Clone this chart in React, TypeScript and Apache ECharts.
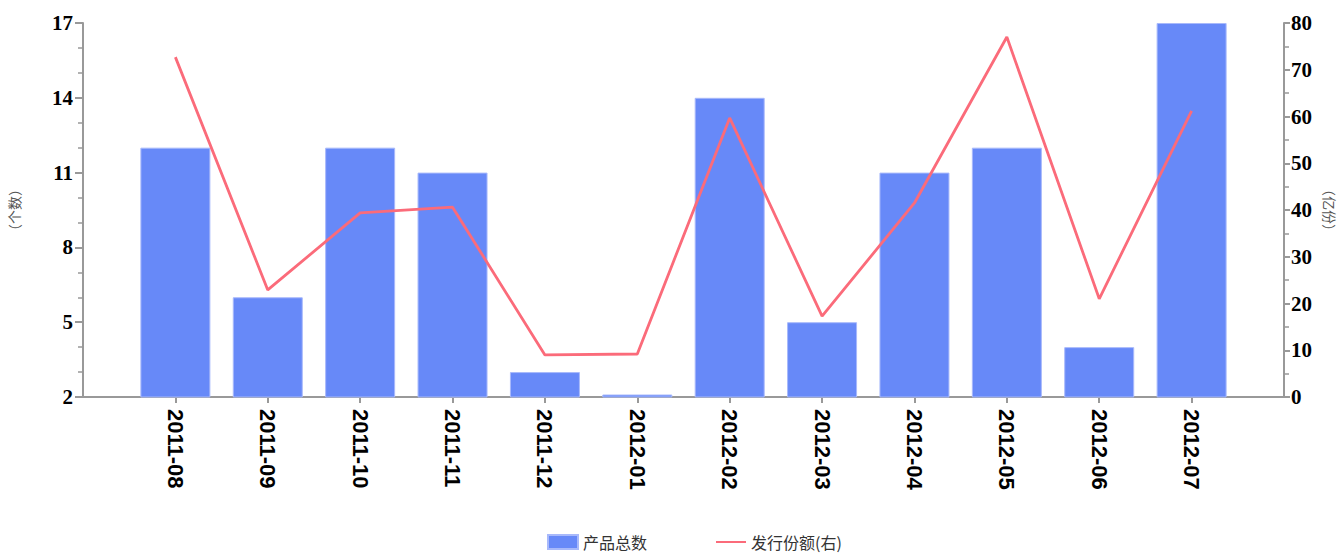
import React, { useEffect, useRef } from "react";
import * as echarts from "echarts";

const categories = ["", "2011-08", "2011-09", "2011-10", "2011-11", "2011-12", "2012-01", "2012-02", "2012-03", "2012-04", "2012-05", "2012-06", "2012-07", ""];
const productCounts: (number | string)[] = ["-", 12, 6, 12, 11, 3, 2.1, 14, 5, 11, 12, 4, 17, "-"];
const issueShares: (number | string)[] = ["-", 72.7, 22.9, 39.4, 40.6, 9.0, 9.2, 59.7, 17.3, 41.5, 77.0, 21.0, 61.2, "-"];
const barName = "产品总数";
const lineName = "发行份额(右)";
const leftAxisName = "（个数）";
const rightAxisName = "（亿份）";

export default function App() {
  const ref = useRef<HTMLDivElement>(null);
  useEffect(() => {
    if (!ref.current) return;
    const chart = echarts.init(ref.current, undefined, { renderer: "svg" });
    const axisLineStyle = { color: "#999", width: 2 };
    chart.setOption({
      animation: false,
      grid: { left: 83, right: 57, top: 23, bottom: 162, outerBoundsMode: "none", containLabel: false },
      legend: {
        left: 542,
        bottom: 4,
        itemWidth: 30,
        itemHeight: 14,
        itemGap: 68,
        textStyle: { fontSize: 16, color: "#333", fontFamily: "Noto Sans CJK SC" },
        data: [
          { name: barName, icon: "rect" },
          { name: lineName, itemStyle: { opacity: 0 } },
        ],
      },
      xAxis: {
        type: "category",
        data: categories,
        boundaryGap: false,
        axisLine: { lineStyle: axisLineStyle },
        axisTick: {
          show: true,
          length: 6,
          interval: (i: number) => i > 0 && i < categories.length - 1,
          lineStyle: { color: "#999", width: 2 },
        },
        axisLabel: {
          interval: 0,
          rotate: -90,
          margin: 12,
          fontSize: 22,
          fontWeight: "bold",
          color: "#000",
          fontFamily: "Liberation Sans",
        },
        splitLine: { show: false },
      },
      yAxis: [
        {
          type: "value",
          min: 2,
          max: 17,
          interval: 3,
          name: leftAxisName,
          nameLocation: "middle",
          nameRotate: 90,
          nameGap: 62,
          nameTextStyle: { fontSize: 14, color: "#555", fontFamily: "Noto Sans CJK SC" },
          axisLine: { show: true, lineStyle: axisLineStyle },
          axisTick: { show: true, length: 8, lineStyle: { color: "#999", width: 2 } },
          minorTick: { show: true, splitNumber: 3, length: 5, lineStyle: { color: "#999", width: 1.5 } },
          axisLabel: { fontSize: 21, fontWeight: "bold", color: "#000", fontFamily: "Liberation Serif", margin: 10 },
          splitLine: { show: false },
        },
        {
          type: "value",
          min: 0,
          max: 80,
          interval: 10,
          position: "right",
          name: rightAxisName,
          nameLocation: "middle",
          nameRotate: -90,
          nameGap: 39,
          nameTextStyle: { fontSize: 14, color: "#555", fontFamily: "Noto Sans CJK SC" },
          axisLine: { show: true, lineStyle: axisLineStyle },
          axisTick: { show: true, length: 6, lineStyle: { color: "#999", width: 2 } },
          minorTick: { show: true, splitNumber: 2, length: 5, lineStyle: { color: "#999", width: 1.5 } },
          axisLabel: { fontSize: 21, fontWeight: "bold", color: "#000", fontFamily: "Liberation Serif", margin: 7 },
          splitLine: { show: false },
        },
      ],
      series: [
        {
          name: barName,
          type: "bar",
          yAxisIndex: 0,
          data: productCounts,
          barWidth: 70,
          itemStyle: { color: "#6789f8", borderColor: "#a8b9fb", borderWidth: 1 },
        },
        {
          name: lineName,
          type: "line",
          yAxisIndex: 1,
          data: issueShares,
          symbol: "none",
          lineStyle: { color: "#fb6b7a", width: 2.8 },
          itemStyle: { color: "#fb6b7a" },
        },
      ],
    });
    return () => chart.dispose();
  }, []);
  return <div ref={ref} style={{ position: "absolute", left: 0, top: 0, width: 1341, height: 559 }} />;
}
